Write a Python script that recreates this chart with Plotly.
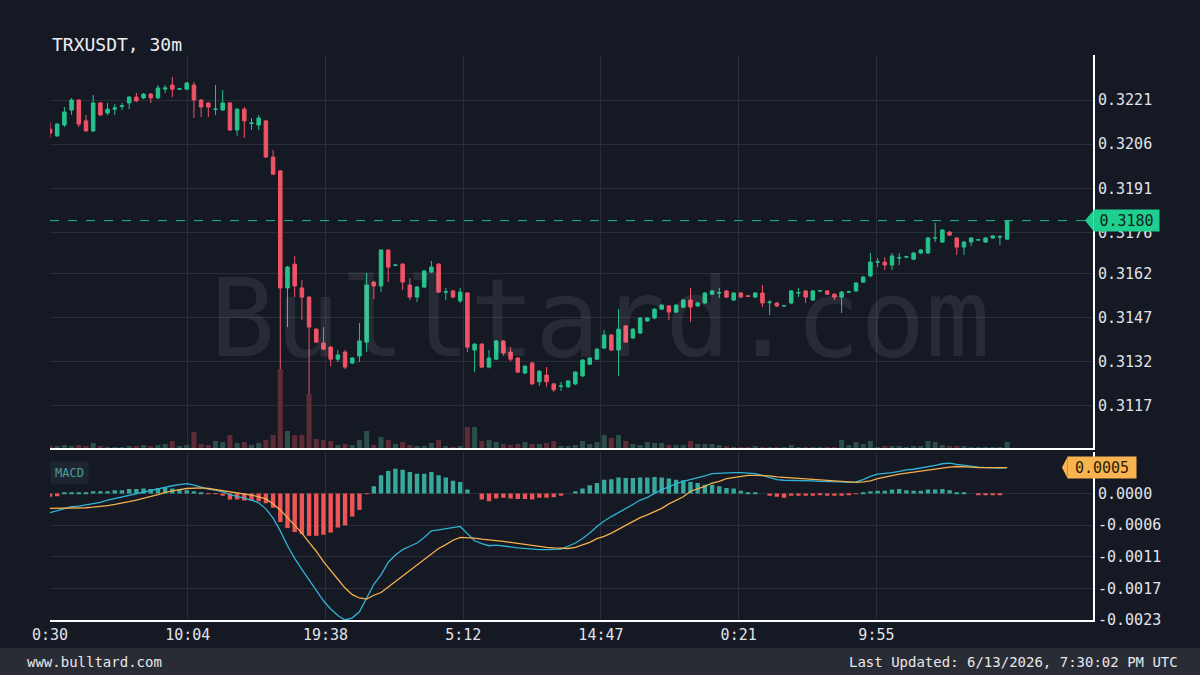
import pandas as pd
import plotly.graph_objects as go

# TRXUSDT 30m candles
symbol = "TRXUSDT, 30m"
times = pd.date_range("2026-06-11 00:30", periods=134, freq="30min")

open_ = [0.32111, 0.32088, 0.32125, 0.32176, 0.32210, 0.32139, 0.32105, 0.32200, 0.32166, 0.32179,
         0.32188, 0.32200, 0.32220, 0.32217, 0.32230, 0.32217, 0.32247, 0.32261, 0.32247, 0.32247,
         0.32261, 0.32210, 0.32200, 0.32178, 0.32176, 0.32200, 0.32108, 0.32179, 0.32130, 0.32125,
         0.32139, 0.32016, 0.31969, 0.31571, 0.31652, 0.31571, 0.31540, 0.31431, 0.31384, 0.31370,
         0.31329, 0.31353, 0.31316, 0.31340, 0.31387, 0.31591, 0.31578, 0.31700, 0.31648, 0.31652,
         0.31581, 0.31540, 0.31574, 0.31625, 0.31652, 0.31557, 0.31561, 0.31527, 0.31554, 0.31360,
         0.31380, 0.31302, 0.31329, 0.31391, 0.31353, 0.31333, 0.31282, 0.31316, 0.31252, 0.31275,
         0.31245, 0.31237, 0.31235, 0.31245, 0.31272, 0.31312, 0.31329, 0.31367, 0.31411, 0.31360,
         0.31442, 0.31401, 0.31418, 0.31459, 0.31469, 0.31499, 0.31510, 0.31489, 0.31506, 0.31530,
         0.31510, 0.31520, 0.31550, 0.31554, 0.31561, 0.31530, 0.31554, 0.31544, 0.31540, 0.31554,
         0.31521, 0.31520, 0.31510, 0.31520, 0.31554, 0.31561, 0.31530, 0.31561, 0.31561, 0.31550,
         0.31540, 0.31557, 0.31561, 0.31591, 0.31612, 0.31659, 0.31659, 0.31649, 0.31673, 0.31676,
         0.31669, 0.31690, 0.31690, 0.31741, 0.31727, 0.31761, 0.31741, 0.31710, 0.31727, 0.31734,
         0.31727, 0.31741, 0.31744, 0.31737]
high = [0.32135, 0.32132, 0.32186, 0.32217, 0.32213, 0.32159, 0.32227, 0.32203, 0.32200, 0.32196,
        0.32200, 0.32223, 0.32234, 0.32234, 0.32234, 0.32261, 0.32261, 0.32288, 0.32251, 0.32271,
        0.32271, 0.32213, 0.32203, 0.32261, 0.32244, 0.32203, 0.32183, 0.32186, 0.32149, 0.32159,
        0.32142, 0.32040, 0.31972, 0.31646, 0.31680, 0.31598, 0.31544, 0.31435, 0.31438, 0.31374,
        0.31360, 0.31360, 0.31336, 0.31452, 0.31622, 0.31595, 0.31703, 0.31703, 0.31652, 0.31656,
        0.31605, 0.31578, 0.31632, 0.31663, 0.31656, 0.31571, 0.31564, 0.31571, 0.31557, 0.31384,
        0.31384, 0.31360, 0.31394, 0.31394, 0.31370, 0.31336, 0.31309, 0.31319, 0.31292, 0.31302,
        0.31248, 0.31252, 0.31258, 0.31288, 0.31329, 0.31336, 0.31367, 0.31428, 0.31414, 0.31499,
        0.31445, 0.31435, 0.31472, 0.31472, 0.31503, 0.31516, 0.31513, 0.31516, 0.31533, 0.31571,
        0.31523, 0.31557, 0.31564, 0.31571, 0.31564, 0.31557, 0.31557, 0.31547, 0.31557, 0.31581,
        0.31530, 0.31523, 0.31513, 0.31564, 0.31571, 0.31564, 0.31564, 0.31564, 0.31564, 0.31554,
        0.31561, 0.31561, 0.31591, 0.31612, 0.31690, 0.31673, 0.31676, 0.31690, 0.31690, 0.31680,
        0.31693, 0.31703, 0.31744, 0.31792, 0.31771, 0.31765, 0.31744, 0.31731, 0.31744, 0.31738,
        0.31744, 0.31751, 0.31751, 0.31800]
low = [0.32081, 0.32085, 0.32118, 0.32159, 0.32118, 0.32101, 0.32101, 0.32155, 0.32159, 0.32159,
       0.32176, 0.32179, 0.32203, 0.32213, 0.32200, 0.32213, 0.32234, 0.32220, 0.32244, 0.32244,
       0.32149, 0.32152, 0.32152, 0.32159, 0.32173, 0.32105, 0.32088, 0.32081, 0.32108, 0.32108,
       0.32013, 0.31955, 0.31094, 0.31438, 0.31540, 0.31462, 0.31207, 0.31384, 0.31360, 0.31305,
       0.31319, 0.31295, 0.31312, 0.31319, 0.31353, 0.31533, 0.31557, 0.31591, 0.31646, 0.31564,
       0.31530, 0.31523, 0.31571, 0.31622, 0.31554, 0.31530, 0.31537, 0.31520, 0.31353, 0.31285,
       0.31298, 0.31298, 0.31326, 0.31340, 0.31322, 0.31282, 0.31278, 0.31241, 0.31238, 0.31235,
       0.31218, 0.31221, 0.31231, 0.31241, 0.31268, 0.31309, 0.31326, 0.31363, 0.31357, 0.31272,
       0.31384, 0.31398, 0.31414, 0.31455, 0.31465, 0.31496, 0.31462, 0.31486, 0.31503, 0.31455,
       0.31506, 0.31516, 0.31547, 0.31537, 0.31537, 0.31527, 0.31537, 0.31540, 0.31537, 0.31506,
       0.31479, 0.31506, 0.31506, 0.31516, 0.31540, 0.31520, 0.31527, 0.31557, 0.31547, 0.31530,
       0.31486, 0.31554, 0.31557, 0.31588, 0.31608, 0.31642, 0.31632, 0.31632, 0.31649, 0.31673,
       0.31666, 0.31686, 0.31686, 0.31727, 0.31724, 0.31748, 0.31683, 0.31683, 0.31714, 0.31731,
       0.31724, 0.31738, 0.31717, 0.31734]
close = [0.32098, 0.32128, 0.32169, 0.32210, 0.32128, 0.32105, 0.32200, 0.32159, 0.32179, 0.32183,
         0.32190, 0.32220, 0.32207, 0.32230, 0.32217, 0.32251, 0.32251, 0.32247, 0.32248, 0.32268,
         0.32210, 0.32186, 0.32186, 0.32179, 0.32200, 0.32108, 0.32179, 0.32139, 0.32132, 0.32149,
         0.32016, 0.31958, 0.31571, 0.31642, 0.31578, 0.31540, 0.31438, 0.31387, 0.31363, 0.31329,
         0.31343, 0.31302, 0.31333, 0.31391, 0.31581, 0.31578, 0.31700, 0.31642, 0.31649, 0.31591,
         0.31540, 0.31574, 0.31629, 0.31642, 0.31557, 0.31558, 0.31540, 0.31557, 0.31370, 0.31380,
         0.31302, 0.31333, 0.31391, 0.31350, 0.31329, 0.31285, 0.31305, 0.31245, 0.31288, 0.31252,
         0.31225, 0.31238, 0.31255, 0.31285, 0.31326, 0.31333, 0.31363, 0.31411, 0.31360, 0.31431,
         0.31387, 0.31431, 0.31469, 0.31469, 0.31499, 0.31513, 0.31489, 0.31513, 0.31530, 0.31506,
         0.31520, 0.31554, 0.31561, 0.31555, 0.31540, 0.31554, 0.31540, 0.31543, 0.31554, 0.31520,
         0.31523, 0.31510, 0.31511, 0.31561, 0.31555, 0.31540, 0.31561, 0.31562, 0.31550, 0.31540,
         0.31557, 0.31558, 0.31588, 0.31608, 0.31659, 0.31660, 0.31649, 0.31680, 0.31674, 0.31677,
         0.31690, 0.31700, 0.31741, 0.31742, 0.31768, 0.31751, 0.31710, 0.31727, 0.31741, 0.31735,
         0.31741, 0.31748, 0.31745, 0.31800]

# volume in millions of TRX
volume = [0.2, 0.2, 0.3, 0.2, 0.3, 0.2, 0.5, 0.2, 0.1, 0.1,
          0.1, 0.2, 0.2, 0.3, 0.2, 0.3, 0.4, 0.7, 0.2, 0.3,
          1.6, 0.4, 0.3, 0.7, 0.6, 1.3, 0.5, 0.6, 0.3, 0.5,
          0.8, 1.3, 7.9, 1.7, 1.3, 1.3, 5.4, 0.9, 0.8, 0.7,
          0.3, 0.4, 0.3, 0.8, 1.7, 0.3, 1.1, 0.8, 0.4, 0.6,
          0.3, 0.2, 0.2, 0.5, 0.8, 0.2, 0.1, 0.2, 2.1, 2.1,
          0.7, 0.8, 0.6, 0.4, 0.3, 0.4, 0.6, 0.4, 0.4, 0.5,
          0.7, 0.2, 0.2, 0.3, 0.7, 0.4, 0.6, 1.3, 1.0, 1.3,
          0.7, 0.4, 0.3, 0.6, 0.5, 0.5, 0.3, 0.3, 0.3, 0.7,
          0.4, 0.4, 0.4, 0.3, 0.2, 0.1, 0.1, 0.1, 0.2, 0.1,
          0.1, 0.1, 0.1, 0.3, 0.1, 0.1, 0.1, 0.1, 0.1, 0.1,
          0.8, 0.3, 0.6, 0.4, 0.7, 0.1, 0.2, 0.2, 0.2, 0.1,
          0.2, 0.2, 0.7, 0.6, 0.3, 0.2, 0.2, 0.2, 0.1, 0.1,
          0.1, 0.1, 0.1, 0.6]

macd = [-0.00035, -0.00031, -0.00028, -0.00024, -0.00023, -0.00021, -0.00019, -0.00016, -0.00012, -0.00009,
        -0.00006, -0.00004, -0.00001, 0.00002, 0.00005, 0.00008, 0.00012, 0.00014, 0.00016, 0.00018,
        0.00015, 0.00011, 0.00008, 0.00006, 0.00003, -0.00002, -0.00005, -0.00008, -0.00012, -0.00017,
        -0.00028, -0.00045, -0.00068, -0.00095, -0.00118, -0.00138, -0.00157, -0.00178, -0.00195, -0.00210,
        -0.00222, -0.00230, -0.00226, -0.00215, -0.00190, -0.00165, -0.00148, -0.00125, -0.00112, -0.00102,
        -0.00096, -0.00090, -0.00080, -0.00068, -0.00066, -0.00064, -0.00062, -0.00060, -0.00073, -0.00086,
        -0.00091, -0.00095, -0.00094, -0.00095, -0.00097, -0.00099, -0.00100, -0.00102, -0.00102, -0.00102,
        -0.00102, -0.00101, -0.00096, -0.00090, -0.00082, -0.00072, -0.00060, -0.00050, -0.00042, -0.00035,
        -0.00028, -0.00020, -0.00012, -0.00007, 0.00000, 0.00007, 0.00012, 0.00018, 0.00022, 0.00025,
        0.00028, 0.00032, 0.00036, 0.00037, 0.00038, 0.00038, 0.00038, 0.00037, 0.00036, 0.00033,
        0.00029, 0.00025, 0.00024, 0.00024, 0.00024, 0.00023, 0.00023, 0.00022, 0.00022, 0.00021,
        0.00021, 0.00020, 0.00021, 0.00025, 0.00031, 0.00035, 0.00036, 0.00038, 0.00040, 0.00043,
        0.00044, 0.00046, 0.00048, 0.00051, 0.00054, 0.00055, 0.00053, 0.00051, 0.00049, 0.00048,
        0.00047, 0.00046, 0.00046, 0.00047]
signal = [-0.00027, -0.00027, -0.00027, -0.00026, -0.00026, -0.00026, -0.00025, -0.00024, -0.00022, -0.00020,
          -0.00018, -0.00015, -0.00012, -0.00009, -0.00005, -0.00002, 0.00002, 0.00005, 0.00007, 0.00009,
          0.00010, 0.00010, 0.00009, 0.00007, 0.00006, 0.00004, 0.00001, -0.00001, -0.00003, -0.00006,
          -0.00010, -0.00019, -0.00030, -0.00044, -0.00058, -0.00072, -0.00089, -0.00105, -0.00124, -0.00141,
          -0.00156, -0.00172, -0.00184, -0.00190, -0.00192, -0.00185, -0.00180, -0.00170, -0.00160, -0.00150,
          -0.00141, -0.00131, -0.00120, -0.00110, -0.00100, -0.00093, -0.00085, -0.00080, -0.00080, -0.00081,
          -0.00083, -0.00084, -0.00086, -0.00087, -0.00089, -0.00091, -0.00093, -0.00094, -0.00096, -0.00098,
          -0.00099, -0.00100, -0.00100, -0.00098, -0.00094, -0.00089, -0.00082, -0.00078, -0.00072, -0.00065,
          -0.00059, -0.00052, -0.00044, -0.00039, -0.00033, -0.00027, -0.00019, -0.00012, -0.00006, 0.00004,
          0.00008, 0.00013, 0.00019, 0.00022, 0.00027, 0.00029, 0.00031, 0.00033, 0.00033, 0.00033,
          0.00032, 0.00030, 0.00029, 0.00028, 0.00027, 0.00026, 0.00026, 0.00025, 0.00024, 0.00023,
          0.00022, 0.00021, 0.00020, 0.00021, 0.00023, 0.00027, 0.00030, 0.00033, 0.00035, 0.00037,
          0.00039, 0.00041, 0.00043, 0.00045, 0.00047, 0.00048, 0.00049, 0.00049, 0.00048, 0.00047,
          0.00047, 0.00046, 0.00046, 0.00047]
hist = [-0.00006, -0.00005, 0.00001, 0.00001, 0.00001, 0.00001, 0.00004, 0.00004, 0.00004, 0.00006,
        0.00006, 0.00008, 0.00008, 0.00009, 0.00008, 0.00010, 0.00010, 0.00009, 0.00008, 0.00006,
        0.00004, 0.00001, -0.00001, -0.00001, -0.00004, -0.00011, -0.00011, -0.00013, -0.00013, -0.00014,
        -0.00018, -0.00026, -0.00052, -0.00063, -0.00070, -0.00074, -0.00077, -0.00077, -0.00075, -0.00071,
        -0.00062, -0.00058, -0.00042, -0.00030, -0.00001, 0.00013, 0.00033, 0.00041, 0.00045, 0.00043,
        0.00039, 0.00036, 0.00036, 0.00039, 0.00033, 0.00029, 0.00023, 0.00021, 0.00007, 0.00000,
        -0.00011, -0.00014, -0.00009, -0.00008, -0.00009, -0.00010, -0.00010, -0.00011, -0.00008, -0.00008,
        -0.00007, -0.00004, 0.00000, 0.00004, 0.00009, 0.00015, 0.00019, 0.00025, 0.00026, 0.00029,
        0.00028, 0.00028, 0.00029, 0.00029, 0.00030, 0.00029, 0.00027, 0.00025, 0.00024, 0.00021,
        0.00019, 0.00016, 0.00016, 0.00013, 0.00010, 0.00009, 0.00005, 0.00002, 0.00001, 0.00000,
        -0.00004, -0.00006, -0.00008, -0.00004, -0.00004, -0.00004, -0.00004, -0.00002, -0.00004, -0.00004,
        -0.00004, -0.00003, -0.00001, 0.00001, 0.00004, 0.00005, 0.00005, 0.00007, 0.00008, 0.00006,
        0.00005, 0.00005, 0.00007, 0.00007, 0.00008, 0.00006, 0.00001, 0.00001, 0.00000, -0.00002,
        -0.00003, -0.00003, -0.00003, 0.00000]

time_labels = ["0:30", "10:04", "19:38", "5:12", "14:47", "0:21", "9:55"]
price_ticks = [0.3117, 0.3132, 0.3147, 0.3162, 0.3176, 0.3191, 0.3206, 0.3221]
macd_ticks = [0.0, -0.000575, -0.00115, -0.001725, -0.0023]
macd_tick_labels = ["0.0000", "-0.0006", "-0.0011", "-0.0017", "-0.0023"]

BG = "#151924"
GRID = "#2a2e39"
GREEN = "#26c28b"
RED = "#ef5366"
FONT = "DejaVu Sans Mono"

tick_step = pd.Timedelta(minutes=574.17)
time_ticks = [times[0] + k * tick_step for k in range(len(time_labels))]
x_range = [times[0], times[0] + pd.Timedelta(minutes=30 * 144.93)]

vol_colors = ["#2c4f4a" if c >= o else "#5e2b37" for o, c in zip(open_, close)]
hist_colors = ["#37a89b" if h >= 0 else "#ec5555" for h in hist]

fig = go.Figure()
fig.add_trace(go.Bar(x=times, y=volume, marker_color=vol_colors, marker_line_width=0,
                     width=1250000, xaxis="x", yaxis="y3", hoverinfo="skip"))
fig.add_trace(go.Candlestick(x=times, open=open_, high=high, low=low, close=close,
                             increasing=dict(line=dict(color=GREEN, width=1), fillcolor=GREEN),
                             decreasing=dict(line=dict(color=RED, width=1), fillcolor=RED),
                             whiskerwidth=0, xaxis="x", yaxis="y"))
fig.add_trace(go.Bar(x=times, y=hist, marker_color=hist_colors, marker_line_width=0,
                     width=1100000, xaxis="x2", yaxis="y2"))
fig.add_trace(go.Scatter(x=times, y=macd, mode="lines", line=dict(color="#30b3d6", width=1.3),
                         xaxis="x2", yaxis="y2"))
fig.add_trace(go.Scatter(x=times, y=signal, mode="lines", line=dict(color="#f3b04d", width=1.3),
                         xaxis="x2", yaxis="y2"))

axis_font = dict(family=FONT, size=15, color="#e1e3e8")
fig.update_layout(
    width=1200, height=675,
    margin=dict(l=50, r=107, t=55, b=55),
    paper_bgcolor=BG, plot_bgcolor=BG,
    showlegend=False, font=dict(family=FONT, color="#e1e3e8"),
    xaxis=dict(domain=[0, 1], anchor="y", range=x_range, rangeslider=dict(visible=False),
               tickvals=time_ticks, showticklabels=False, ticks="",
               showgrid=True, gridcolor=GRID, gridwidth=1, zeroline=False,
               showline=True, linecolor="#ffffff", linewidth=2),
    yaxis=dict(domain=[0.3044, 1], anchor="x", side="right", range=[0.31027, 0.32363],
               tickvals=price_ticks, tickformat=".4f", tickfont=axis_font, ticks="",
               showgrid=True, gridcolor=GRID, zeroline=False,
               showline=True, linecolor="#ffffff", linewidth=2),
    yaxis3=dict(domain=[0.3044, 1], overlaying="y", anchor="x", range=[0, 39.3],
                visible=False, showgrid=False),
    xaxis2=dict(domain=[0, 1], anchor="y2", range=x_range, matches="x",
                tickvals=time_ticks, ticktext=time_labels, tickfont=axis_font, ticks="",
                showgrid=True, gridcolor=GRID, zeroline=False,
                showline=True, linecolor="#ffffff", linewidth=2),
    yaxis2=dict(domain=[0, 0.297], anchor="x2", side="right", range=[-0.0023, 0.00075],
                tickvals=macd_ticks, ticktext=macd_tick_labels, tickfont=axis_font, ticks="",
                showgrid=True, gridcolor=GRID, zeroline=False,
                showline=True, linecolor="#ffffff", linewidth=2),
    bargap=0.3,
)

# footer band
fig.add_shape(type="rect", xref="paper", yref="paper", x0=-0.06, x1=1.11, y0=-0.0496, y1=-0.2,
              fillcolor="#292c35", line_width=0, layer="below")

# last price line and label (box drawn as annotation so it sits over the tick labels)
last = close[-1]
fig.add_shape(type="line", xref="paper", yref="y", x0=0, x1=1, y0=last, y1=last,
              line=dict(color="#22b98a", width=1, dash="dash"))
ph = 0.00035
fig.add_shape(type="path", xref="paper", yref="y", fillcolor="#1fcf8f", line_width=0,
              path=f"M 0.9923,{last} L 1.0005,{last + ph} L 1.0005,{last - ph} Z")
fig.add_annotation(xref="paper", yref="y", x=1.0, y=last, xanchor="left", yanchor="middle",
                   text=f"{last:.4f}", showarrow=False, bgcolor="#1fcf8f", borderpad=4,
                   width=57, height=13,
                   font=dict(family=FONT, size=15, color="#0c231a"))

# last MACD label
lm = macd[-1]
mh = 0.0002
fig.add_shape(type="path", xref="paper", yref="y2", fillcolor="#f9b451", line_width=0,
              path=f"M 0.9703,{lm} L 0.9756,{lm + mh} L 0.9756,{lm - mh} Z")
fig.add_annotation(xref="paper", yref="y2", x=0.975, y=lm, xanchor="left", yanchor="middle",
                   text=f"{lm:.4f}", showarrow=False, bgcolor="#f9b451", borderpad=4,
                   width=60, height=13,
                   font=dict(family=FONT, size=15, color="#2a1d08"))

# texts
fig.add_annotation(xref="paper", yref="paper", x=0, y=1.0177, xanchor="left", yanchor="middle",
                   text=symbol, showarrow=False, font=dict(family=FONT, size=18, color="#eceef2"))
fig.add_annotation(xref="paper", yref="paper", x=0.0, y=0.2814, xanchor="left", yanchor="top",
                   text="MACD", showarrow=False, bgcolor="#1d2531", borderpad=4,
                   font=dict(family=FONT, size=12, color="#4e9c98"))
fig.add_annotation(xref="paper", yref="paper", x=0.527, y=0.5345, xanchor="center",
                   text="Bulltard.com", showarrow=False,
                   font=dict(family=FONT, size=108, color="rgba(255,255,255,0.08)"))
fig.add_annotation(xref="paper", yref="paper", x=-0.024, y=-0.0743, xanchor="left", yanchor="middle",
                   text="www.bulltard.com", showarrow=False,
                   font=dict(family=FONT, size=14, color="#e6e8ec"))
fig.add_annotation(xref="paper", yref="paper", x=1.0834, y=-0.0743, xanchor="right", yanchor="middle",
                   text="Last Updated: 6/13/2026, 7:30:02 PM UTC", showarrow=False,
                   font=dict(family=FONT, size=14, color="#e6e8ec"))

fig.write_html("out.html", config={"displayModeBar": False},
               post_script="document.body.style.margin='0px';")
